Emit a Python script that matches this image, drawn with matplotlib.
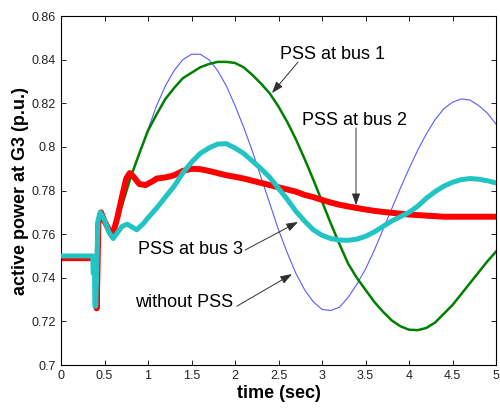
import matplotlib
matplotlib.use("Agg")
import matplotlib.pyplot as plt

plt.rcParams['font.family'] = ['Liberation Sans', 'DejaVu Sans']

# without PSS (thin blue)
t_nopss = [0, 0.405, 0.41, 0.43, 0.46, 0.5, 0.55, 0.59, 0.7, 0.8, 0.9, 1.0, 1.1, 1.2, 1.3, 1.4,
           1.5, 1.6, 1.7, 1.8, 1.9, 2.0, 2.1, 2.2, 2.3, 2.4, 2.5, 2.6, 2.7, 2.8, 2.9, 3.0,
           3.1, 3.2, 3.3, 3.4, 3.5, 3.6, 3.7, 3.8, 3.9, 4.0, 4.1, 4.2, 4.3, 4.4, 4.5, 4.6,
           4.7, 4.8, 4.9, 5.0]
p_nopss = [0.749, 0.749, 0.726, 0.765, 0.770, 0.766, 0.762, 0.759, 0.773, 0.786, 0.797, 0.808,
           0.819, 0.828, 0.835, 0.840, 0.8425, 0.8425, 0.840, 0.835, 0.828, 0.819, 0.809,
           0.798, 0.786, 0.774, 0.762, 0.7515, 0.742, 0.7345, 0.729, 0.7255, 0.725, 0.7265,
           0.731, 0.737, 0.744, 0.7525, 0.762, 0.7715, 0.781, 0.790, 0.7985, 0.806, 0.8125,
           0.8175, 0.8205, 0.822, 0.8215, 0.819, 0.8155, 0.8105]

# PSS at bus 1 (green)
t_bus1 = [0, 0.405, 0.41, 0.43, 0.46, 0.5, 0.55, 0.59, 0.7, 0.8, 0.9, 1.0, 1.1, 1.2, 1.3, 1.4,
          1.5, 1.6, 1.7, 1.8, 1.9, 2.0, 2.1, 2.2, 2.3, 2.4, 2.5, 2.6, 2.7, 2.8, 2.9, 3.0,
          3.1, 3.2, 3.3, 3.4, 3.5, 3.6, 3.7, 3.8, 3.9, 4.0, 4.1, 4.2, 4.3, 4.4, 4.5, 4.6,
          4.7, 4.8, 4.9, 5.0]
p_bus1 = [0.749, 0.749, 0.726, 0.765, 0.770, 0.766, 0.762, 0.759, 0.773, 0.786, 0.797, 0.8075,
          0.815, 0.822, 0.827, 0.8315, 0.834, 0.8365, 0.838, 0.839, 0.839, 0.8385, 0.8365,
          0.833, 0.829, 0.8245, 0.8185, 0.8115, 0.8035, 0.7945, 0.785, 0.775, 0.765, 0.7555,
          0.7465, 0.740, 0.7345, 0.729, 0.7245, 0.7205, 0.7178, 0.7162, 0.716, 0.717, 0.7195,
          0.7235, 0.7275, 0.7325, 0.7375, 0.7425, 0.7475, 0.752]

# PSS at bus 2 (red)
t_bus2 = [0, 0.405, 0.41, 0.43, 0.46, 0.5, 0.55, 0.59, 0.65, 0.7, 0.75, 0.79, 0.83, 0.9, 0.97,
          1.05, 1.1, 1.2, 1.3, 1.4, 1.5, 1.6, 1.7, 1.8, 1.9, 2.0, 2.1, 2.2, 2.3, 2.4, 2.5,
          2.6, 2.7, 2.8, 2.9, 3.0, 3.1, 3.2, 3.3, 3.4, 3.5, 3.6, 3.7, 3.8, 3.9, 4.0, 4.2,
          4.4, 4.6, 4.8, 5.0]
p_bus2 = [0.749, 0.749, 0.726, 0.765, 0.770, 0.766, 0.762, 0.759, 0.768, 0.777, 0.7855, 0.788,
          0.7865, 0.783, 0.7825, 0.7842, 0.7855, 0.786, 0.787, 0.789, 0.790, 0.7898, 0.789,
          0.788, 0.787, 0.7863, 0.7855, 0.7845, 0.7835, 0.7825, 0.7815, 0.7805, 0.7795,
          0.778, 0.777, 0.7757, 0.7745, 0.7735, 0.7727, 0.772, 0.7713, 0.7707, 0.7702,
          0.7698, 0.7694, 0.769, 0.7685, 0.768, 0.768, 0.768, 0.768]

# PSS at bus 3 (cyan)
t_bus3 = [0, 0.365, 0.37, 0.385, 0.39, 0.40, 0.425, 0.45, 0.5, 0.55, 0.6, 0.7, 0.76, 0.87, 0.95,
          1.0, 1.1, 1.2, 1.3, 1.4, 1.5, 1.6, 1.7, 1.8, 1.9, 2.0, 2.1, 2.2, 2.3, 2.4, 2.5,
          2.6, 2.7, 2.8, 2.9, 3.0, 3.1, 3.2, 3.3, 3.4, 3.5, 3.6, 3.7, 3.8, 3.9, 4.0, 4.1,
          4.2, 4.3, 4.4, 4.5, 4.6, 4.7, 4.8, 4.9, 5.0]
p_bus3 = [0.75, 0.75, 0.742, 0.742, 0.727, 0.727, 0.766, 0.770, 0.7665, 0.761, 0.758, 0.7635,
          0.7646, 0.762, 0.765, 0.7675, 0.772, 0.777, 0.782, 0.788, 0.793, 0.797, 0.7995,
          0.8013, 0.8015, 0.7995, 0.797, 0.7935, 0.790, 0.786, 0.781, 0.776, 0.7705, 0.766,
          0.762, 0.7595, 0.758, 0.7573, 0.7572, 0.7577, 0.759, 0.761, 0.7635, 0.766, 0.768,
          0.770, 0.7728, 0.7765, 0.7795, 0.782, 0.7838, 0.785, 0.7855, 0.7852, 0.7845, 0.7835]

xticks = [0, 0.5, 1, 1.5, 2, 2.5, 3, 3.5, 4, 4.5, 5]
xticklabels = ['0', '0.5', '1', '1.5', '2', '2.5', '3', '3.5', '4', '4.5', '5']
yticks = [0.7, 0.72, 0.74, 0.76, 0.78, 0.8, 0.82, 0.84, 0.86]
yticklabels = ['0.7', '0.72', '0.74', '0.76', '0.78', '0.8', '0.82', '0.84', '0.86']

fig = plt.figure(figsize=(5.0, 4.12), dpi=100)
ax = fig.add_axes([0.122, 0.114, 0.870, 0.847])

ax.plot(t_nopss, p_nopss, color='#5a5aff', lw=0.8, zorder=1)
ax.plot(t_bus1, p_bus1, color='#008000', lw=1.8, zorder=1.5)
ax.plot(t_bus2, p_bus2, color='#ff0000', lw=4.3, zorder=2)
ax.plot(t_bus3, p_bus3, color='#22c3c3', lw=3.6, zorder=3)

ax.set_xlim(0, 5)
ax.set_ylim(0.7, 0.86)
ax.set_xticks(xticks)
ax.set_xticklabels(xticklabels)
ax.set_yticks(yticks)
ax.set_yticklabels(yticklabels)
ax.tick_params(direction='in', length=3.6, width=0.7, top=True, right=True,
               labelsize=9, pad=3.5, colors='#222222')
for s in ax.spines.values():
    s.set_linewidth(0.8)

ax.set_xlabel('time (sec)', fontsize=13, fontweight='bold', labelpad=2)
ax.set_ylabel('active power at G3 (p.u.)', fontsize=13, fontweight='bold', labelpad=2)

arrow = dict(arrowstyle='-|>,head_length=0.7,head_width=0.25', color='#303030', lw=0.7,
             shrinkA=0, shrinkB=0, mutation_scale=10)

ax.text(3.126, 0.8426, 'PSS at bus 1', fontsize=13, ha='center', va='center')
ax.annotate('', xy=(2.425, 0.8247), xytext=(2.724, 0.8389), arrowprops=arrow)

ax.text(3.368, 0.8123, 'PSS at bus 2', fontsize=13, ha='center', va='center')
ax.annotate('', xy=(3.391, 0.7733), xytext=(3.391, 0.8087), arrowprops=arrow)

ax.text(1.483, 0.7532, 'PSS at bus 3', fontsize=13, ha='center', va='center')
ax.annotate('', xy=(2.724, 0.7656), xytext=(2.115, 0.7527), arrowprops=arrow)

ax.text(1.414, 0.7289, 'without PSS', fontsize=13, ha='center', va='center')
ax.annotate('', xy=(2.655, 0.7417), xytext=(2.023, 0.7270), arrowprops=arrow)

fig.savefig('out.png', dpi=100)
